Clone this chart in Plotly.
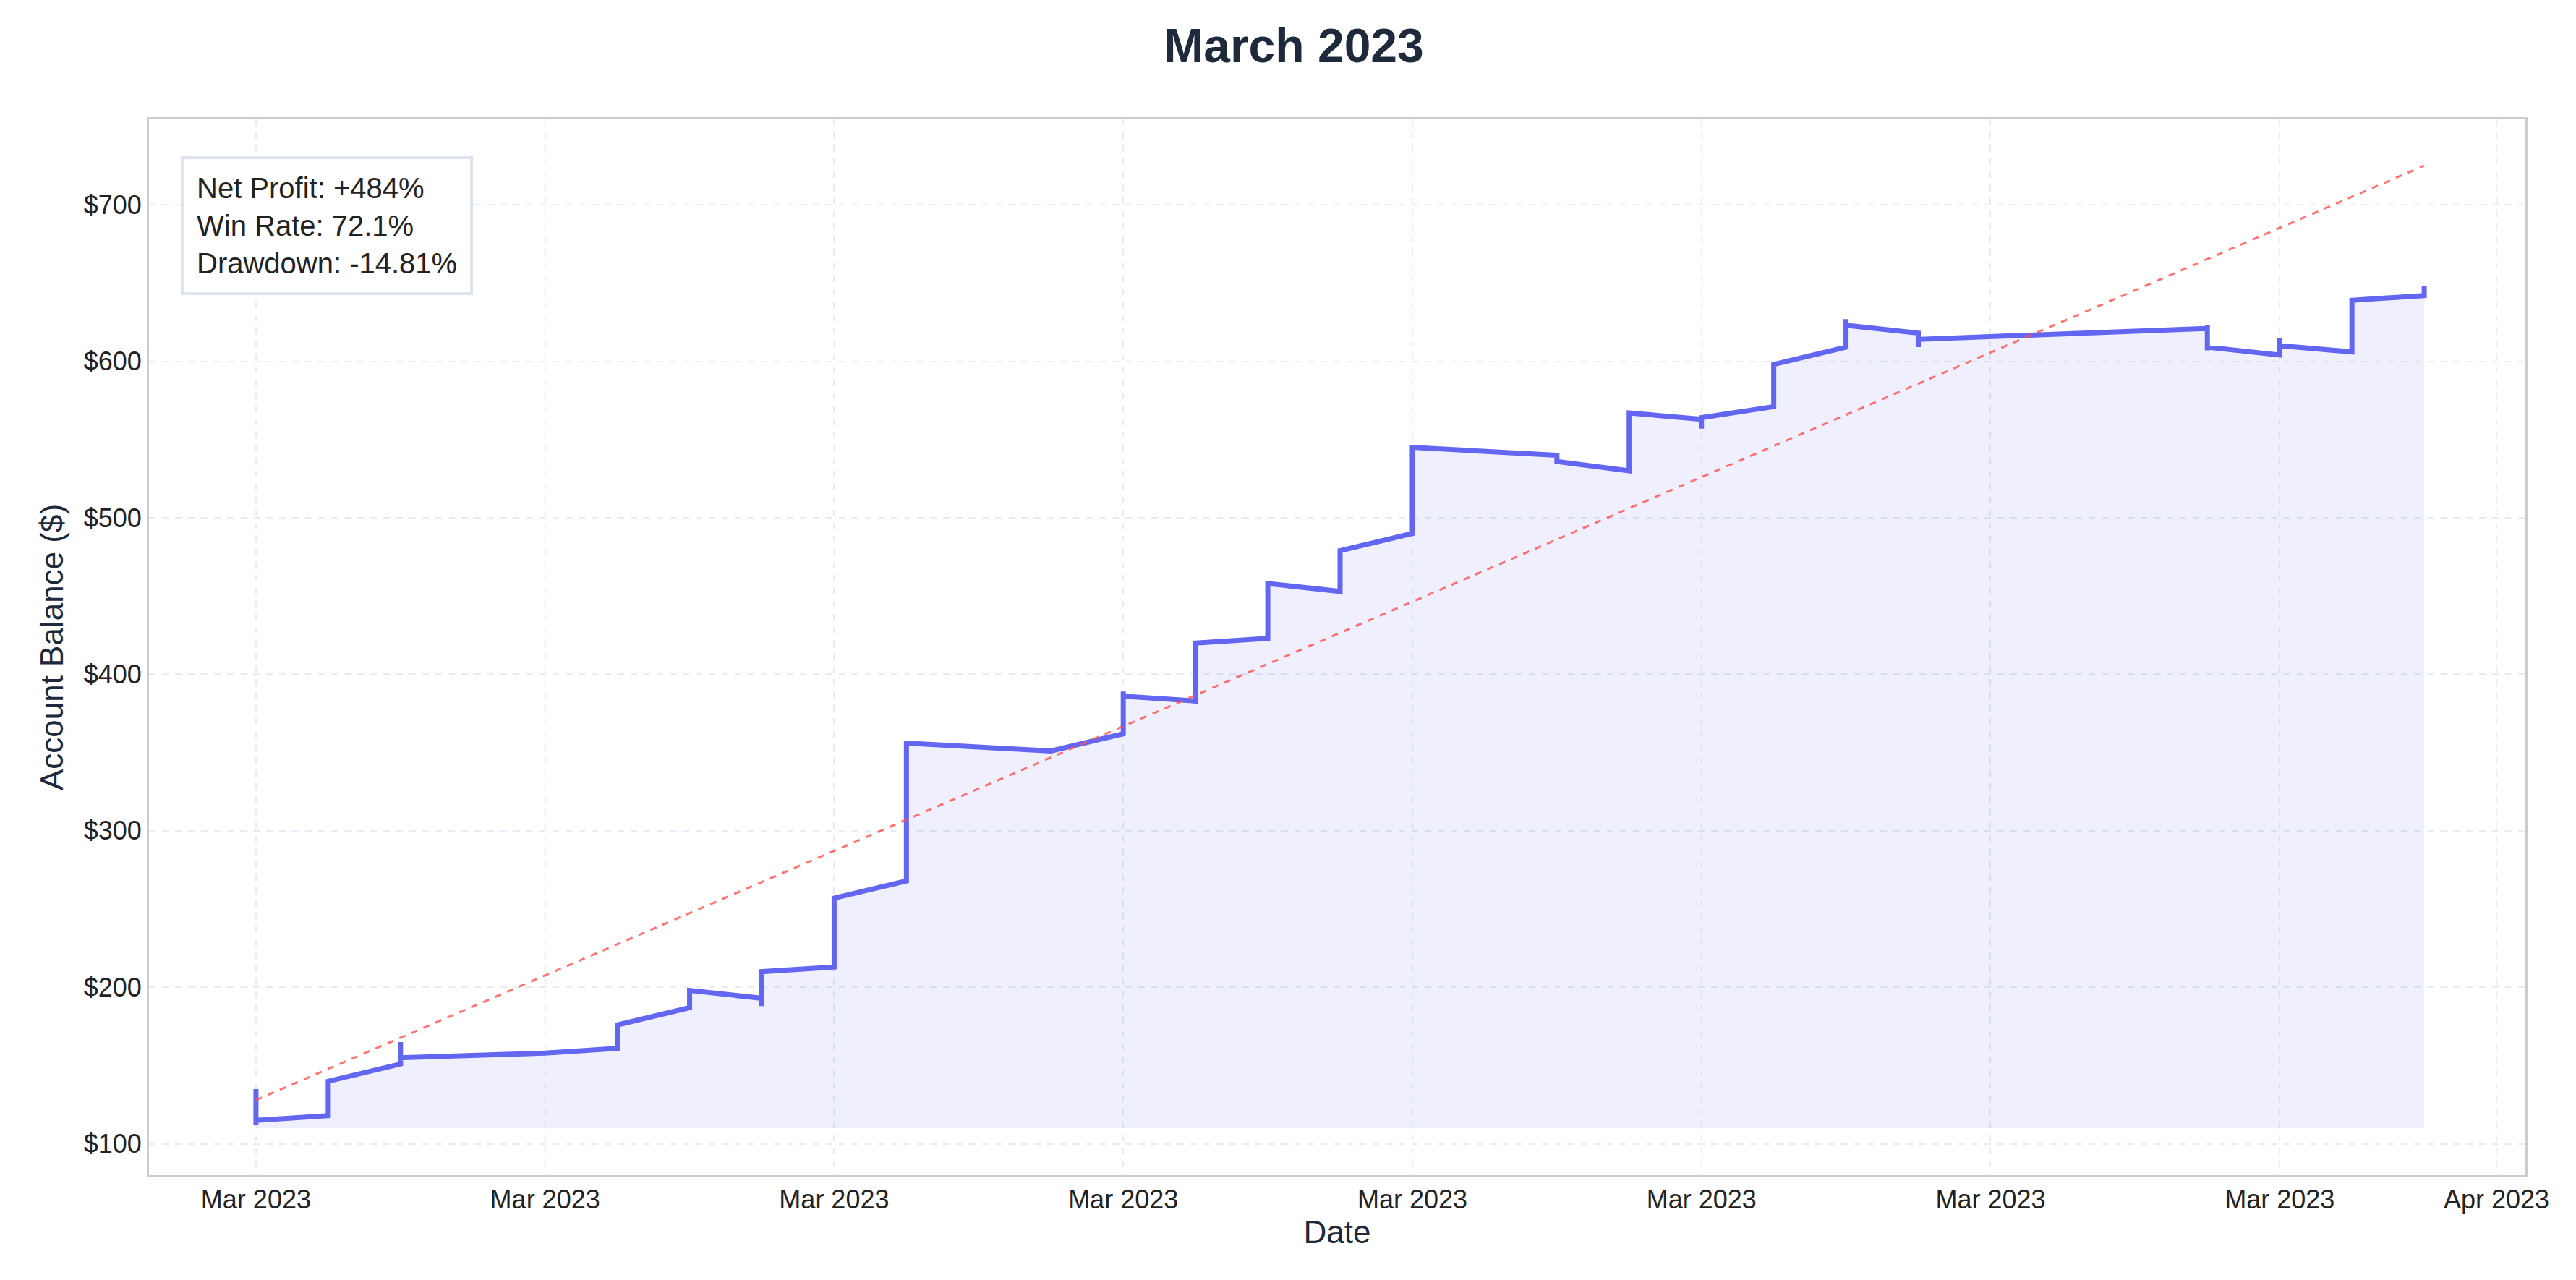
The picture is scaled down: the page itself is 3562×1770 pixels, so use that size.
import plotly.graph_objects as go
import pandas as pd

dates = ["2023-03-01"]*3 + ["2023-03-02"]*2 + ["2023-03-03"]*3 + ["2023-03-05"] + ["2023-03-06"]*2 + \
    ["2023-03-07"]*2 + ["2023-03-08"]*3 + ["2023-03-09"]*2 + ["2023-03-10"]*2 + ["2023-03-12"] + \
    ["2023-03-13"]*3 + ["2023-03-14"]*3 + ["2023-03-15"]*2 + ["2023-03-16"]*2 + ["2023-03-17"]*2 + \
    ["2023-03-19"]*2 + ["2023-03-20"]*2 + ["2023-03-21"]*3 + ["2023-03-22"]*2 + ["2023-03-23"]*3 + \
    ["2023-03-24"]*3 + ["2023-03-28"]*4 + ["2023-03-29"]*3 + ["2023-03-30"]*2 + ["2023-03-31"]*3
balance = [135, 112, 115, 118, 140, 151, 165, 155, 158, 161, 176,
           187, 198, 193, 188, 210, 213, 257, 268, 356, 351,
           362, 389, 386, 383, 381, 420, 423, 458, 453, 479, 490, 545,
           540, 536, 530, 567, 563, 557, 564, 571, 598, 609, 627, 623,
           618, 609, 614, 621, 623, 607, 609, 604, 615, 610, 606, 639, 642, 648, 642]
start_balance = 110
trend_dates = ["2023-03-01", "2023-03-31"]
trend_values = [128, 725]
tick_dates = ["2023-03-01", "2023-03-05", "2023-03-09", "2023-03-13", "2023-03-17",
              "2023-03-21", "2023-03-25", "2023-03-29", "2023-04-01"]
tick_labels = ["Mar 2023"]*8 + ["Apr 2023"]
y_ticks = [100, 200, 300, 400, 500, 600, 700]

x = pd.to_datetime(dates)
fig = go.Figure()
fig.add_trace(go.Scatter(x=x, y=[start_balance]*len(x), mode="lines",
                         line=dict(width=0), showlegend=False, hoverinfo="skip"))
fig.add_trace(go.Scatter(x=x, y=balance, mode="lines", fill="tonexty",
                         fillcolor="rgba(99,102,241,0.1)",
                         line=dict(color="#6366f1", width=7), showlegend=False))
fig.add_trace(go.Scatter(x=pd.to_datetime(trend_dates), y=trend_values, mode="lines",
                         line=dict(color="rgba(255,80,80,0.8)", width=3, dash="dash"),
                         showlegend=False))

font = "Liberation Sans, Arial, sans-serif"
fig.update_layout(
    width=3562, height=1770, plot_bgcolor="white", paper_bgcolor="white",
    margin=dict(l=198, r=78, t=157, b=153),
    font=dict(family=font, color="#222222"),
    title=dict(text="<b>March 2023</b>", x=0.5, xanchor="center", y=0.982, yanchor="top",
               font=dict(size=66, color="#1e293b", family=font)),
    xaxis=dict(range=[pd.Timestamp("2023-03-01") - pd.Timedelta(days=1.48),
                      pd.Timestamp("2023-03-01") + pd.Timedelta(days=31.4)],
               tickvals=pd.to_datetime(tick_dates), ticktext=tick_labels,
               tickfont=dict(size=36), ticks="outside", ticklen=0,
               title=dict(text="Date", font=dict(size=44, color="#1e293b"), standoff=10),
               showgrid=True, gridcolor="#e8ecf3", griddash="dash", gridwidth=2,
               showline=True, linecolor="#cccccc", linewidth=3, mirror=True, zeroline=False),
    yaxis=dict(range=[80, 754.6], tickvals=y_ticks, ticktext=[f"${v}" for v in y_ticks],
               tickfont=dict(size=36),
               title=dict(text="Account Balance ($)", font=dict(size=44, color="#1e293b"), standoff=15),
               showgrid=True, gridcolor="#e8ecf3", griddash="dash", gridwidth=2,
               showline=True, linecolor="#cccccc", linewidth=3, mirror=True, zeroline=False),
    annotations=[dict(xref="paper", yref="paper", x=0.0135, y=0.965, xanchor="left", yanchor="top",
                      text="Net Profit: +484%<br>Win Rate: 72.1%<br>Drawdown: -14.81%",
                      align="left", showarrow=False, font=dict(size=40, color="#222222"),
                      bgcolor="white", bordercolor="#dde4ef", borderwidth=4, borderpad=18)],
)
fig.write_html("out.html")
